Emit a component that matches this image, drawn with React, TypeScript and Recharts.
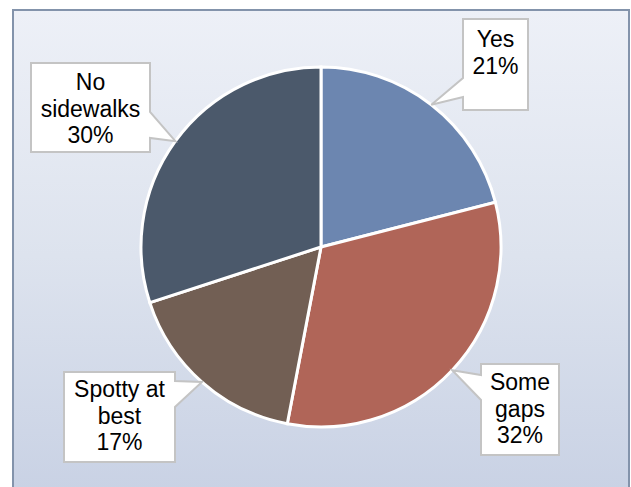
import { Cell, Pie, PieChart } from "recharts";

const categories = ["Yes", "Some gaps", "Spotty at best", "No sidewalks"];
const shares = [21, 32, 17, 30];
const labelLines = [["Yes"], ["Some", "gaps"], ["Spotty at", "best"], ["No", "sidewalks"]];
const colors = ["#6c86b0", "#b06558", "#725f54", "#4b596b"];

// callout boxes: x, y, w, h, side of the pointer, pointer base on that edge
const callouts = [
  { x: 463, y: 19, w: 65, h: 91, side: "left", b1: 78, b2: 97, top: 47 },
  { x: 481, y: 364, w: 78, h: 91, side: "left", b1: 375, b2: 400, top: 390 },
  { x: 64, y: 372, w: 111, h: 90, side: "right", b1: 381, b2: 407, top: 397 },
  { x: 31, y: 63, w: 119, h: 89, side: "right", b1: 112, b2: 138, top: 90 },
];

const data = categories.map((name, i) => ({ name, value: shares[i] }));
const RADIAN = Math.PI / 180;

function Callout(props: any) {
  const { cx, cy, midAngle, outerRadius, index, value } = props;
  const c = callouts[index];
  const tx = cx + outerRadius * Math.cos(-midAngle * RADIAN);
  const ty = cy + outerRadius * Math.sin(-midAngle * RADIAN);
  const { x, y, w, h } = c;
  const d =
    c.side === "left"
      ? `M${x},${y} H${x + w} V${y + h} H${x} V${c.b2} L${tx},${ty} L${x},${c.b1} Z`
      : `M${x},${y} H${x + w} V${c.b1} L${tx},${ty} L${x + w},${c.b2} V${y + h} H${x} Z`;
  const lines = [...labelLines[index], `${value}%`];
  return (
    <g>
      <path d={d} fill="#ffffff" stroke="#c4c4c4" strokeWidth={2} />
      {lines.map((t, i) => (
        <text
          key={i}
          x={x + w / 2}
          y={c.top + i * 26.5}
          textAnchor="middle"
          fontSize={23}
          fontFamily="'Liberation Sans', Arial, sans-serif"
          fill="#000"
        >
          {t}
        </text>
      ))}
    </g>
  );
}

export default function App() {
  return (
    <div style={{ position: "absolute", left: 0, top: 0, width: 631, height: 487, overflow: "hidden", background: "#fff" }}>
      <div
        style={{
          position: "absolute",
          left: 12,
          top: 9,
          width: 614,
          height: 490,
          border: "2px solid #8393ab",
          background: "linear-gradient(to bottom, #edf0f7 0%, #dde3ee 50%, #c8d1e4 100%)",
        }}
      />
      <div style={{ position: "absolute", left: 0, top: 0 }}>
        <PieChart width={631} height={487} margin={{ top: 0, right: 0, bottom: 0, left: 0 }}>
          <Pie
            data={data}
            dataKey="value"
            nameKey="name"
            cx={321}
            cy={247}
            outerRadius={180}
            startAngle={90}
            endAngle={-270}
            stroke="#ffffff"
            strokeWidth={3}
            labelLine={false}
            label={Callout}
            isAnimationActive={false}
          >
            {data.map((d, i) => (
              <Cell key={d.name} fill={colors[i]} />
            ))}
          </Pie>
        </PieChart>
      </div>
    </div>
  );
}
